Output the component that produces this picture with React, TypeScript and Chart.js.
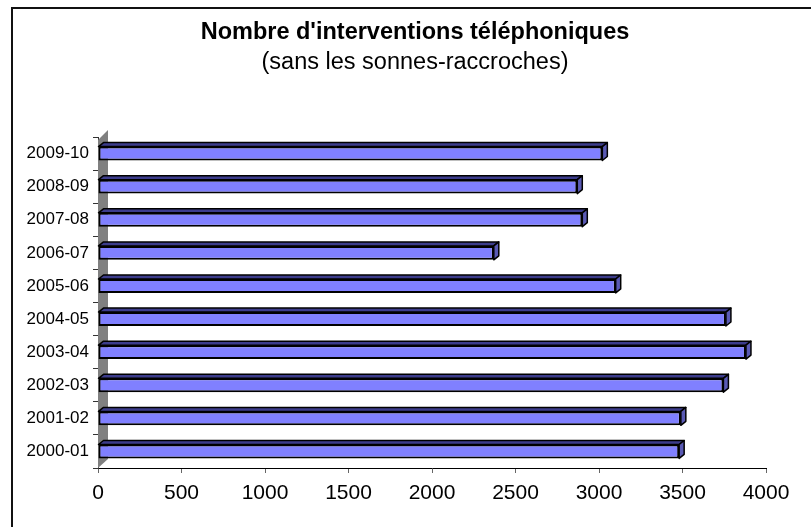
import React, { useEffect, useRef } from "react";
import { Chart, registerables } from "chart.js";

Chart.register(...registerables);

const categories = ["2000-01", "2001-02", "2002-03", "2003-04", "2004-05", "2005-06", "2006-07", "2007-08", "2008-09", "2009-10"];
const interventions = [3480, 3490, 3745, 3880, 3760, 3100, 2370, 2900, 2870, 3020];
const xTicks = [0, 500, 1000, 1500, 2000, 2500, 3000, 3500, 4000];
const titleText = "Nombre d'interventions téléphoniques";
const subtitleText = "(sans les sonnes-raccroches)";

const FONT = "'Liberation Sans', Arial, Helvetica, sans-serif";
const DX = 5;
const DY = 4;

const framePlugin = {
  id: "frame",
  afterLayout(chart: any) {
    // widen the label clip area of the category axis so labels can extend left
    const y = chart.scales.y;
    if (y) y.left = 0;
  },
  beforeDraw(chart: any) {
    const ctx = chart.ctx;
    ctx.save();
    ctx.fillStyle = "#ffffff";
    ctx.fillRect(0, 0, chart.width, chart.height);
    ctx.strokeStyle = "#111111";
    ctx.lineWidth = 2;
    ctx.strokeRect(12, 8, chart.width + 50, chart.height + 50);
    ctx.restore();
  },
  beforeDatasetsDraw(chart: any) {
    const ctx = chart.ctx;
    const a = chart.chartArea;
    ctx.save();
    ctx.fillStyle = "#808080";
    ctx.beginPath();
    ctx.moveTo(a.left, a.bottom);
    ctx.lineTo(a.left, a.top + 3);
    ctx.lineTo(a.left + 10, a.top - 7);
    ctx.lineTo(a.left + 10, a.bottom - 9);
    ctx.closePath();
    ctx.fill();
    ctx.restore();
  },
  afterDatasetsDraw(chart: any) {
    const ctx = chart.ctx;
    const meta = chart.getDatasetMeta(0);
    ctx.save();
    ctx.lineJoin = "round";
    meta.data.forEach((bar: any) => {
      const p = bar.getProps(["x", "y", "base", "height"], true);
      const left = Math.min(p.base, p.x);
      const right = Math.max(p.base, p.x);
      const top = p.y - p.height / 2;
      const bottom = p.y + p.height / 2;
      ctx.beginPath();
      ctx.moveTo(left, top);
      ctx.lineTo(left + DX, top - DY);
      ctx.lineTo(right + DX, top - DY);
      ctx.lineTo(right, top);
      ctx.closePath();
      ctx.fillStyle = "#3c3c8c";
      ctx.fill();
      ctx.strokeStyle = "#000000";
      ctx.lineWidth = 1.5;
      ctx.stroke();
      ctx.beginPath();
      ctx.moveTo(right, top);
      ctx.lineTo(right + DX, top - DY);
      ctx.lineTo(right + DX, bottom - DY);
      ctx.lineTo(right, bottom);
      ctx.closePath();
      ctx.fillStyle = "#5a5ab4";
      ctx.fill();
      ctx.stroke();
    });
    ctx.restore();
  },
};

export default function App() {
  const ref = useRef<HTMLCanvasElement | null>(null);
  useEffect(() => {
    if (!ref.current) return;
    const chart = new Chart(ref.current, {
      type: "bar",
      data: {
        labels: categories,
        datasets: [
          {
            label: "Interventions",
            data: interventions,
            backgroundColor: "#8080ff",
            borderColor: "#000000",
            borderWidth: 2,
            borderSkipped: false,
            barPercentage: 0.7,
            categoryPercentage: 0.6,
          },
        ],
      },
      options: {
        indexAxis: "y",
        animation: false,
        responsive: true,
        maintainAspectRatio: false,
        layout: { padding: { left: 64, right: 45, top: 0, bottom: 0 } },
        plugins: {
          legend: { display: false },
          tooltip: { enabled: false },
          title: {
            display: true,
            text: titleText,
            color: "#000000",
            font: { family: FONT, size: 23.5, weight: "bold", lineHeight: 1.2 },
            padding: { top: 18.5, bottom: 0 },
          },
          subtitle: {
            display: true,
            text: subtitleText,
            color: "#000000",
            font: { family: FONT, size: 23.5, weight: "normal", lineHeight: 1.2 },
            padding: { top: 1.7, bottom: 60.4 },
          },
        },
        scales: {
          x: {
            type: "linear",
            min: 0,
            max: 4000,
            afterBuildTicks: (scale: any) => {
              scale.ticks = xTicks.map((v) => ({ value: v }));
            },
            afterFit: (scale: any) => {
              scale.height = 59;
            },
            grid: {
              drawOnChartArea: false,
              drawTicks: true,
              tickLength: 5,
              tickColor: "#666666",
            },
            border: { display: true, color: "#000000", width: 1 },
            ticks: {
              color: "#000000",
              padding: 8,
              maxRotation: 0,
              font: { family: FONT, size: 21 },
              callback: (v: any) => String(v),
            },
          },
          y: {
            type: "category",
            reverse: true,
            offset: true,
            afterFit: (scale: any) => {
              scale.width = 34;
            },
            grid: {
              offset: true,
              drawOnChartArea: false,
              drawTicks: true,
              tickLength: 5,
              tickColor: "#333333",
            },
            border: { display: true, color: "#333333", width: 1 },
            ticks: {
              color: "#000000",
              padding: 4,
              font: { family: FONT, size: 17 },
            },
          },
        },
      },
      plugins: [framePlugin],
    });
    return () => chart.destroy();
  }, []);
  return (
    <div style={{ position: "absolute", left: 0, top: 0, width: 811, height: 527, overflow: "hidden" }}>
      <canvas ref={ref} />
    </div>
  );
}
